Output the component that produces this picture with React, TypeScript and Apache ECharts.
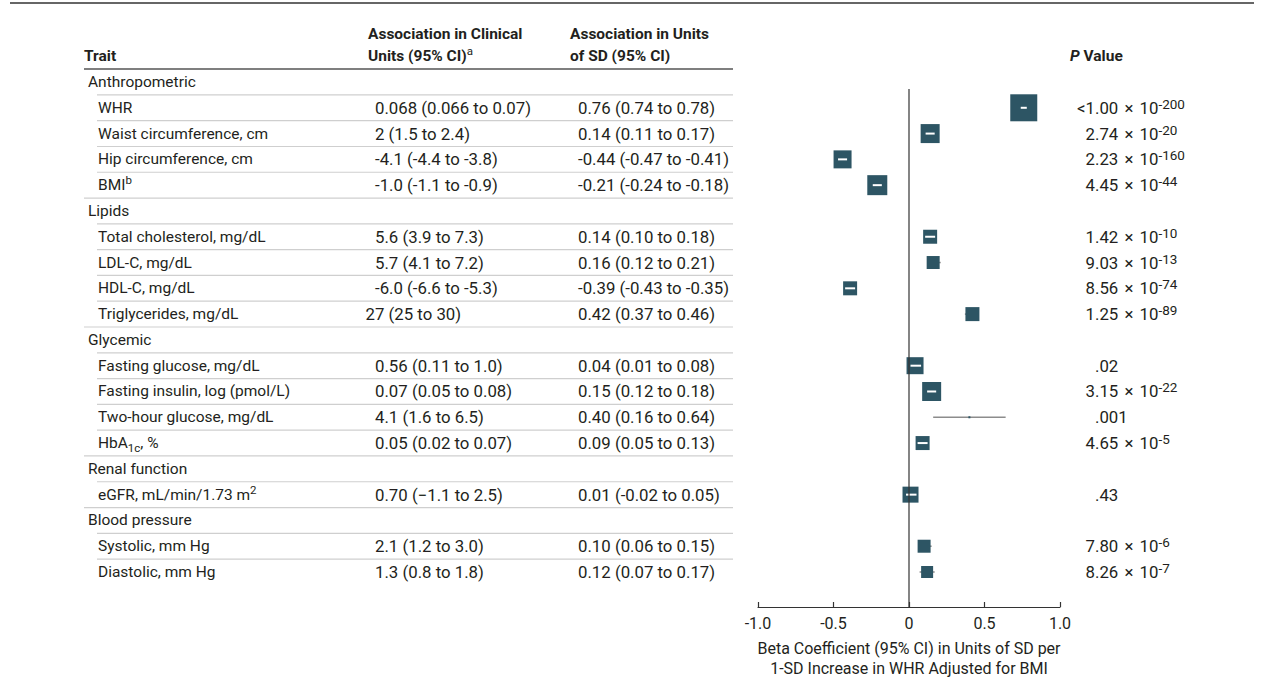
import React, { useEffect, useRef } from "react";
import * as echarts from "echarts";

const groupNames = ["Anthropometric", "Lipids", "Glycemic", "Renal function", "Blood pressure"];
const traitGroup = [0, 0, 0, 0, 1, 1, 1, 1, 2, 2, 2, 2, 3, 4, 4];
const traitNames = [
  "WHR",
  "Waist circumference, cm",
  "Hip circumference, cm",
  "BMI{sup|b}",
  "Total cholesterol, mg/dL",
  "LDL-C, mg/dL",
  "HDL-C, mg/dL",
  "Triglycerides, mg/dL",
  "Fasting glucose, mg/dL",
  "Fasting insulin, log (pmol/L)",
  "Two-hour glucose, mg/dL",
  "HbA{sub|1c}, %",
  "eGFR, mL/min/1.73 m{sup|2}",
  "Systolic, mm Hg",
  "Diastolic, mm Hg",
];
const clinical = [
  "0.068 (0.066 to 0.07)",
  "2 (1.5 to 2.4)",
  "-4.1 (-4.4 to -3.8)",
  "-1.0 (-1.1 to -0.9)",
  "5.6 (3.9 to 7.3)",
  "5.7 (4.1 to 7.2)",
  "-6.0 (-6.6 to -5.3)",
  "27 (25 to 30)",
  "0.56 (0.11 to 1.0)",
  "0.07 (0.05 to 0.08)",
  "4.1 (1.6 to 6.5)",
  "0.05 (0.02 to 0.07)",
  "0.70 (\u22121.1 to 2.5)",
  "2.1 (1.2 to 3.0)",
  "1.3 (0.8 to 1.8)",
];
const beta = [0.76, 0.14, -0.44, -0.21, 0.14, 0.16, -0.39, 0.42, 0.04, 0.15, 0.4, 0.09, 0.01, 0.1, 0.12];
const lower = [0.74, 0.11, -0.47, -0.24, 0.1, 0.12, -0.43, 0.37, 0.01, 0.12, 0.16, 0.05, -0.02, 0.06, 0.07];
const upper = [0.78, 0.17, -0.41, -0.18, 0.18, 0.21, -0.35, 0.46, 0.08, 0.18, 0.64, 0.13, 0.05, 0.15, 0.17];
const weight = [27, 19, 18, 20, 14, 13, 14, 14, 17, 19, 2, 14, 16, 13, 12];
const pMantissa = ["<1.00", "2.74", "2.23", "4.45", "1.42", "9.03", "8.56", "1.25", ".02", "3.15", ".001", "4.65", ".43", "7.80", "8.26"];
const pExponent = ["-200", "-20", "-160", "-44", "-10", "-13", "-74", "-89", "", "-22", "", "-5", "", "-6", "-7"];
const xAxisName = "Beta Coefficient (95% CI) in Units of SD per\n1-SD Increase in WHR Adjusted for BMI";

// layout constants
const FONT = "Roboto";
const FS = 15.5;
const NUM_FS = 16.8;
const TEXT = "#231f20";
const ROW0 = 82;
const ROW_H = 25.79;
const GRID_LEFT = 758;
const GRID_W = 302;
const GRID_TOP = 89;
const GRID_BOTTOM = 607;

type Row = { kind: "group" | "item"; idx: number; last?: boolean };

function buildRows(): Row[] {
  const rows: Row[] = [];
  groupNames.forEach((_, g) => {
    rows.push({ kind: "group", idx: g });
    const members = traitGroup.map((tg, i) => (tg === g ? i : -1)).filter((i) => i >= 0);
    members.forEach((i, k) => rows.push({ kind: "item", idx: i, last: k === members.length - 1 }));
  });
  return rows;
}

const richStyles: any = {
  sup: { fontSize: 11.5, fontFamily: FONT, fill: TEXT, verticalAlign: "top", lineHeight: 11 },
  sub: { fontSize: 11.5, fontFamily: FONT, fill: TEXT, verticalAlign: "bottom", lineHeight: 11 },
  psup: { fontSize: 13.5, fontFamily: FONT, fill: TEXT, verticalAlign: "top", lineHeight: 12 },
  times: { fontSize: NUM_FS, fontFamily: FONT, fill: TEXT, padding: [0, 2, 0, 2] },
  i: { fontSize: FS, fontFamily: FONT, fontWeight: "bold", fontStyle: "italic", fill: TEXT },
};

function txt(x: number, y: number, text: string, opts: any = {}) {
  return {
    type: "text",
    x,
    y,
    silent: true,
    style: {
      text,
      fill: TEXT,
      fontSize: FS,
      fontFamily: FONT,
      align: "left",
      verticalAlign: "middle",
      lineHeight: 22,
      rich: richStyles,
      ...opts,
    },
  };
}

function hline(x1: number, x2: number, y: number, stroke: string, lineWidth: number) {
  return { type: "line", silent: true, shape: { x1, y1: y, x2, y2: y }, style: { stroke, lineWidth } };
}

export default function App() {
  const ref = useRef<HTMLDivElement>(null);
  useEffect(() => {
    document.body.style.margin = "0";
    if (!ref.current) return;
    const chart = echarts.init(ref.current, undefined, { renderer: "svg" });
    const rows = buildRows();
    const rowY = (r: number) => ROW0 + r * ROW_H;
    const digitW = NUM_FS * 0.562;

    const graphics: any[] = [];
    graphics.push(hline(10, 1254, 3, "#333", 1.5));
    // headers
    graphics.push(txt(84, 56, "Trait", { fontWeight: "bold" }));
    graphics.push(txt(368, 34, "Association in Clinical", { fontWeight: "bold" }));
    graphics.push(
      txt(368, 56, "Units (95% CI){sup|a}", {
        fontWeight: "bold",
        rich: { sup: { ...richStyles.sup, fontWeight: "normal" } },
      })
    );
    graphics.push(txt(570, 34, "Association in Units", { fontWeight: "bold" }));
    graphics.push(txt(570, 56, "of SD (95% CI)", { fontWeight: "bold" }));
    graphics.push(txt(1070, 56, "{i|P} Value", { fontWeight: "bold" }));
    graphics.push(hline(84, 733, rowY(-0.5), "#555", 1.5));

    rows.forEach((row, r) => {
      const y = rowY(r);
      if (r < rows.length - 1) {
        const full = row.kind === "item" && row.last;
        graphics.push(hline(full ? 84 : 97, 733, rowY(r + 0.5), "#cfcfcf", 1.2));
      }
      if (row.kind === "group") {
        graphics.push(txt(88, y, groupNames[row.idx]));
        return;
      }
      const i = row.idx;
      graphics.push(txt(98, y, traitNames[i]));
      const intPart = clinical[i].replace(/^[-\u2212]/, "").split(/[. ]/)[0];
      graphics.push(txt(375 - (intPart.length - 1) * digitW, y, clinical[i], { fontSize: NUM_FS }));
      const sd = `${beta[i].toFixed(2)} (${lower[i].toFixed(2)} to ${upper[i].toFixed(2)})`;
      graphics.push(txt(578, y, sd, { fontSize: NUM_FS }));
      const dot = pMantissa[i].indexOf(".");
      const pre = pMantissa[i].slice(0, dot);
      const post = pMantissa[i].slice(dot) + (pExponent[i] ? ` {times|\u00d7} 10{psup|${pExponent[i]}}` : "");
      if (pre) graphics.push(txt(1095, y, pre, { align: "right", fontSize: NUM_FS }));
      graphics.push(txt(1095, y, post, { fontSize: NUM_FS }));
    });

    const yMin = (GRID_TOP - ROW0) / ROW_H;
    const yMax = (GRID_BOTTOM - ROW0) / ROW_H;
    const rowOfItem: number[] = [];
    rows.forEach((row, r) => {
      if (row.kind === "item") rowOfItem[row.idx] = r;
    });
    const forestData = beta.map((b, i) => [b, lower[i], upper[i], rowOfItem[i], weight[i]]);

    chart.setOption({
      animation: false,
      grid: { left: GRID_LEFT, width: GRID_W, top: GRID_TOP, height: GRID_BOTTOM - GRID_TOP },
      xAxis: {
        type: "value",
        min: -1,
        max: 1,
        interval: 0.5,
        splitLine: { show: false },
        axisLine: { show: true, lineStyle: { color: "#333", width: 1.2 } },
        axisTick: { show: true, inside: true, length: 5, lineStyle: { color: "#333", width: 1.2 } },
        axisLabel: {
          margin: 8,
          color: TEXT,
          fontSize: 16,
          fontFamily: FONT,
          formatter: (v: number) => (v === 0 ? "0" : v.toFixed(1)),
        },
        name: xAxisName,
        nameLocation: "middle",
        nameGap: 31,
        nameTextStyle: { color: TEXT, fontSize: 16, fontFamily: FONT, lineHeight: 20 },
      },
      yAxis: { type: "value", inverse: true, min: yMin, max: yMax, show: false },
      graphic: graphics,
      series: [
        {
          type: "line",
          data: [
            [0, yMin],
            [0, yMax],
          ],
          symbol: "none",
          silent: true,
          lineStyle: { color: "#333", width: 1.2 },
        },
        {
          type: "custom",
          data: forestData,
          silent: true,
          renderItem: (params: any, api: any) => {
            const y = api.coord([0, api.value(3)])[1];
            const xb = api.coord([api.value(0), 0])[0];
            const xl = api.coord([api.value(1), 0])[0];
            const xh = api.coord([api.value(2), 0])[0];
            const s = api.value(4);
            const left = xb - s / 2;
            const right = xb + s / 2;
            const children: any[] = [
              { type: "line", shape: { x1: xl, y1: y, x2: xh, y2: y }, style: { stroke: "#8c8c8c", lineWidth: 1.5 } },
              { type: "rect", shape: { x: left, y: y - s / 2, width: s, height: s }, style: { fill: "#2d5564" } },
            ];
            if (xl >= left && xh <= right && s > 4) {
              children.push({
                type: "line",
                shape: { x1: Math.max(xl, left + 2), y1: y, x2: Math.min(xh, right - 2), y2: y },
                style: { stroke: "#ffffff", lineWidth: 2 },
              });
            }
            return { type: "group", children };
          },
        },
      ],
    });
    return () => chart.dispose();
  }, []);
  return <div ref={ref} style={{ width: 1262, height: 693 }} />;
}
